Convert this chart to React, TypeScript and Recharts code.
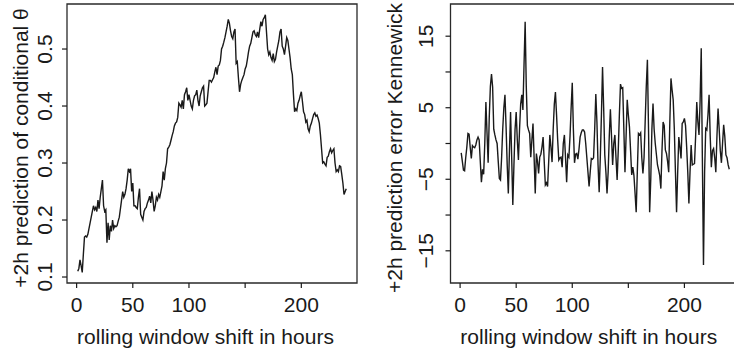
import React from "react";
import { LineChart, Line, XAxis, YAxis, ReferenceArea, Label } from "recharts";

// x categories: rolling window shift in hours (1..240)
const hours: number[] = Array.from({ length: 240 }, (_, i) => i + 1);

// left panel: +2h prediction of conditional theta
const thetaPred: number[] = [
  0.11, 0.115, 0.13, 0.12, 0.108, 0.14, 0.17, 0.172, 0.17, 0.175,
  0.185, 0.195, 0.205, 0.215, 0.225, 0.218, 0.222, 0.215, 0.235, 0.22,
  0.24, 0.255, 0.27, 0.225, 0.215, 0.218, 0.16, 0.195, 0.165, 0.19,
  0.18, 0.2, 0.185, 0.19, 0.188, 0.19, 0.198, 0.205, 0.22, 0.235,
  0.25, 0.24, 0.245, 0.255, 0.27, 0.29, 0.285, 0.29, 0.25, 0.265,
  0.225, 0.225, 0.222, 0.22, 0.24, 0.255, 0.21, 0.205, 0.2, 0.215,
  0.22, 0.222, 0.23, 0.235, 0.242, 0.23, 0.25, 0.235, 0.215, 0.225,
  0.24, 0.235, 0.245, 0.24, 0.25, 0.26, 0.285, 0.27, 0.29, 0.3,
  0.325, 0.328, 0.332, 0.34, 0.348, 0.355, 0.365, 0.37, 0.372, 0.38,
  0.405, 0.402, 0.398, 0.41, 0.395, 0.42, 0.425, 0.432, 0.41, 0.42,
  0.41, 0.4, 0.395, 0.41, 0.418, 0.42, 0.428, 0.41, 0.4, 0.418,
  0.425, 0.432, 0.435, 0.4, 0.402, 0.405, 0.425, 0.445, 0.445, 0.442,
  0.446, 0.45, 0.46, 0.468, 0.455, 0.47, 0.472, 0.48, 0.5, 0.505,
  0.512, 0.52, 0.53, 0.54, 0.552, 0.545, 0.532, 0.522, 0.518, 0.53,
  0.535, 0.475, 0.478, 0.45, 0.425, 0.438, 0.445, 0.45, 0.455, 0.465,
  0.47, 0.482, 0.495, 0.505, 0.51, 0.52, 0.53, 0.532, 0.525, 0.522,
  0.53, 0.52, 0.535, 0.548, 0.54, 0.552, 0.555, 0.56, 0.53, 0.5,
  0.49, 0.495, 0.485, 0.48, 0.492, 0.478, 0.482, 0.495, 0.505, 0.515,
  0.53, 0.535, 0.505, 0.5, 0.49, 0.505, 0.52, 0.515, 0.5, 0.485,
  0.465, 0.455, 0.42, 0.39, 0.395, 0.392, 0.405, 0.41, 0.418, 0.425,
  0.408, 0.39, 0.385, 0.372, 0.375, 0.36, 0.355, 0.365, 0.37, 0.378,
  0.385, 0.388, 0.382, 0.384, 0.378, 0.37, 0.35, 0.325, 0.3, 0.302,
  0.298, 0.295, 0.31, 0.312, 0.32, 0.325, 0.318, 0.322, 0.325, 0.3,
  0.285, 0.288, 0.285, 0.295, 0.294, 0.28, 0.265, 0.245, 0.25, 0.255,
];

// right panel: +2h prediction error Kennewick
const predError: number[] = [
  -1.3, -2.5, -3.7, -3.8, -2, -0.5, 1.4, 1.3, -0.5, -2.1,
  -0.3, -0.5, -0.6, -0.2, 0.5, 0.9, 0.5, -2.5, -5.4, -3.6,
  -4.3, 0, 5.8, 1.5, -2.7, 3.7, 8, 9.7, 7.9, 2,
  1.2, 0.5, 0, -2.5, -4.9, -5.1, -2, 2, 5, 6.8,
  2.3, -3, -7, -1, 4.4, -2, -8.6, -3, 2, 4.4,
  0.5, -2.3, 2, 5.5, 6.8, 4.7, 11, 17, 8, 2.5,
  1.9, 1.4, -1.9, 0.5, 2.8, -2, -7, -1.4, -2.5, -4.2,
  -1.9, -1.5, -0.5, 0.9, -2.5, -5.8, -5.5, -6, -2.5, 1.2,
  -0.5, -2.6, 2, 5.5, 7.2, 4, 0.5, -2.3, -2, -1.9,
  -3.3, 0, 1.2, -2, -5.4, -1.6, -1.9, 1, 5, 8.5,
  2, -2.7, -1.5, -1.4, -2.2, -0.8, 0.9, 1.5, 1.9, 1.9,
  1.6, 0, -2, -4, -6, -4, -2.1, -2.2, -2, 2,
  6.9, 3, -3, -6.8, -2, 4, 10.7, 5, -1.6, -4,
  -7, -4, 1, 4.8, 1, -3, 0, 1.2, -2, -5.1,
  -1, 4, 8.3, 7.7, 7.8, 2, -4, 1, 6.1, 4,
  2.3, -1, -4.4, -3.3, -4.5, -7, -9.6, -4, 1.4, 1.2,
  1.5, -2, -4.2, -2, 3, 8, 11.7, 2, -9.6, -5,
  2, 5.6, 2, 0, -1.5, -3, -3.7, -4.5, -6.3, -1,
  3, 2.5, -0.9, -1.4, -2.5, -4, 3, 9.1, 7.5, 6.1,
  2, -4, -9.6, -4, 0.9, -0.5, -2.1, 2.8, 3, 3.5,
  2.5, -0.5, -4, -8.4, -4, -0.2, -3, -2.9, -2.8, 1,
  5.8, 3, 1.2, 6, 13.3, -2, -17, -4, 2.1, 1.9,
  4, 6.8, 1, -3.3, -1, -0.7, -2, -4, 1, 4.9,
  2, -1, -2.7, 0, 2.6, 1, -1.6, -2, -3, -3.6,
];

const xTicks: number[] = [0, 50, 100, 150, 200];
const xTickLabels: string[] = ["0", "50", "100", "", "200"];
const leftYTicks: number[] = [0.1, 0.2, 0.3, 0.4, 0.5];
const leftYTickLabels: string[] = ["0.1", "0.2", "0.3", "0.4", "0.5"];
const rightYTicks: number[] = [-15, -10, -5, 0, 5, 10, 15];
const rightYTickLabels: string[] = ["\u221215", "", "\u22125", "", "5", "", "15"];

const xTitle = "rolling window shift in hours";
const leftYTitle = "+2h prediction of conditional \u03b8";
const rightYTitle = "+2h prediction error Kennewick";

const leftData = hours.map((h, i) => ({ h, v: thetaPred[i] }));
const rightData = hours.map((h, i) => ({ h, v: predError[i] }));

const X_DOMAIN: [number, number] = [-8.56, 249.56];
const LEFT_Y_DOMAIN: [number, number] = [0.0895, 0.579];
const RIGHT_Y_DOMAIN: [number, number] = [-19.5, 19.5];

const FONT = "'Liberation Sans', Arial, Helvetica, sans-serif";
const FS = 21;
const INK = "#1a1a1a";

const makeXTick = (baseline: number) => (props: any) => {
  const { x, payload } = props;
  const idx = xTicks.indexOf(payload.value);
  const label = idx >= 0 ? xTickLabels[idx] : String(payload.value);
  return (
    <text x={x} y={baseline} textAnchor="middle" fontFamily={FONT} fontSize={FS} fill={INK}>
      {label}
    </text>
  );
};

const makeYTick = (ticks: number[], labels: string[], baseX: number) => (props: any) => {
  const { y, payload } = props;
  const idx = ticks.indexOf(payload.value);
  const label = idx >= 0 ? labels[idx] : String(payload.value);
  return (
    <text
      x={baseX}
      y={y}
      textAnchor="middle"
      transform={`rotate(-90 ${baseX} ${y})`}
      fontFamily={FONT}
      fontSize={FS}
      fill={INK}
    >
      {label}
    </text>
  );
};

const makeXTitle = (shift: number, baseline: number) => (props: any) => {
  const vb = props.viewBox || {};
  const cx = vb.x + vb.width / 2 + shift;
  return (
    <text x={cx} y={baseline} textAnchor="middle" fontFamily={FONT} fontSize={FS} fill={INK}>
      {xTitle}
    </text>
  );
};

const makeYTitle = (text: string, baseX: number, cy: number) => () => (
  <text
    x={baseX}
    y={cy}
    textAnchor="middle"
    transform={`rotate(-90 ${baseX} ${cy})`}
    fontFamily={FONT}
    fontSize={FS}
    fill={INK}
  >
    {text}
  </text>
);

export default function App() {
  return (
    <div
      style={{
        position: "absolute",
        left: 0,
        top: 0,
        width: 734,
        height: 352,
        overflow: "hidden",
        background: "#fff",
      }}
    >
      <div style={{ position: "absolute", left: 0, top: 0 }}>
        <LineChart width={370} height={352} data={leftData} margin={{ top: 4, right: 13, left: 0, bottom: 0 }}>
          <XAxis
            dataKey="h"
            type="number"
            domain={X_DOMAIN}
            allowDataOverflow
            ticks={xTicks}
            interval={0}
            height={69}
            axisLine={false}
            tickSize={5}
            tickLine={{ stroke: INK, strokeWidth: 1.2 }}
            tick={makeXTick(312)}
          >
            <Label content={makeXTitle(-6.5, 344)} />
          </XAxis>
          <YAxis
            type="number"
            domain={LEFT_Y_DOMAIN}
            allowDataOverflow
            ticks={leftYTicks}
            interval={0}
            width={67}
            axisLine={false}
            tickSize={5}
            tickLine={{ stroke: INK, strokeWidth: 1.2 }}
            tick={makeYTick(leftYTicks, leftYTickLabels, 52)}
          >
            <Label content={makeYTitle(leftYTitle, 28, 148)} />
          </YAxis>
          <ReferenceArea
            x1={X_DOMAIN[0]}
            x2={X_DOMAIN[1]}
            y1={LEFT_Y_DOMAIN[0]}
            y2={LEFT_Y_DOMAIN[1]}
            fill="none"
            fillOpacity={0}
            stroke="#2a2a2a"
            strokeWidth={1.3}
          />
          <Line
            type="linear"
            dataKey="v"
            stroke={INK}
            strokeWidth={1.4}
            dot={false}
            isAnimationActive={false}
          />
        </LineChart>
      </div>
      <div style={{ position: "absolute", left: 370, top: 0 }}>
        <LineChart width={370} height={352} data={rightData} margin={{ top: 4, right: 0, left: 0, bottom: 0 }}>
          <XAxis
            dataKey="h"
            type="number"
            domain={X_DOMAIN}
            allowDataOverflow
            ticks={xTicks}
            interval={0}
            height={69}
            axisLine={false}
            tickSize={5}
            tickLine={{ stroke: INK, strokeWidth: 1.2 }}
            tick={makeXTick(312)}
          >
            <Label content={makeXTitle(-6.5, 344)} />
          </XAxis>
          <YAxis
            type="number"
            domain={RIGHT_Y_DOMAIN}
            allowDataOverflow
            ticks={rightYTicks}
            interval={0}
            width={80.5}
            axisLine={false}
            tickSize={5}
            tickLine={{ stroke: INK, strokeWidth: 1.2 }}
            tick={makeYTick(rightYTicks, rightYTickLabels, 63)}
          >
            <Label content={makeYTitle(rightYTitle, 32, 148)} />
          </YAxis>
          <ReferenceArea
            x1={X_DOMAIN[0]}
            x2={X_DOMAIN[1]}
            y1={RIGHT_Y_DOMAIN[0]}
            y2={RIGHT_Y_DOMAIN[1]}
            fill="none"
            fillOpacity={0}
            stroke="#2a2a2a"
            strokeWidth={1.3}
          />
          <Line
            type="linear"
            dataKey="v"
            stroke={INK}
            strokeWidth={1.4}
            dot={false}
            isAnimationActive={false}
          />
        </LineChart>
      </div>
    </div>
  );
}
